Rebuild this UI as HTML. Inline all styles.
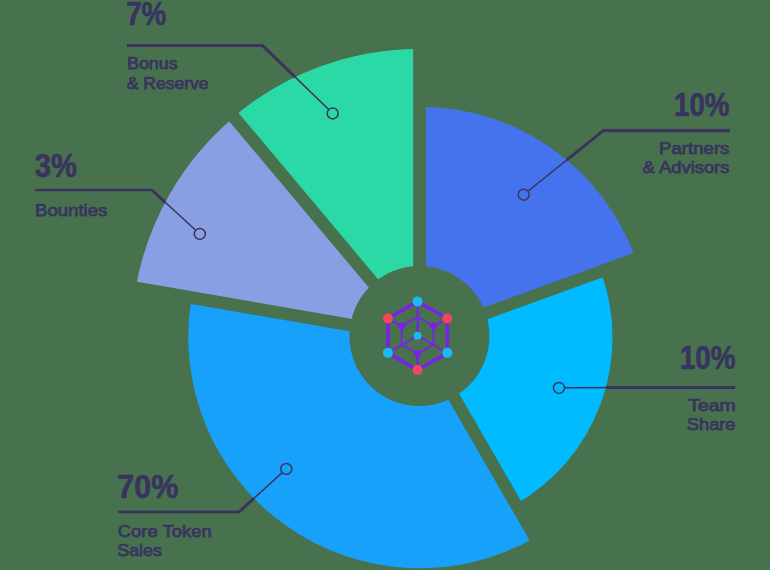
<!DOCTYPE html>
<html><head><meta charset="utf-8"><title>Token Distribution</title>
<style>
html,body{margin:0;padding:0;background:#48724d;}
body{width:770px;height:570px;overflow:hidden;font-family:"Liberation Sans",sans-serif;}
svg{display:block}
.big{font-family:"Liberation Sans",sans-serif;font-weight:700;font-size:33px;fill:#38345f;stroke:#38345f;stroke-width:0.7px}
.sm{font-family:"Liberation Sans",sans-serif;font-weight:400;font-size:16.2px;fill:#38345f;stroke:#38345f;stroke-width:0.75px}
</style></head><body>
<svg width="770" height="570" viewBox="0 0 770 570">
<rect width="770" height="570" fill="#48724d"/>
<g id="leaders-under">
<line x1="127.0" y1="45.4" x2="262.3" y2="45.4" stroke="#38345f" stroke-width="3.0"/>
<line x1="262.3" y1="45.4" x2="332.7" y2="113.4" stroke="#38345f" stroke-width="3.0" stroke-linecap="round"/>
<line x1="35.2" y1="190.0" x2="151.8" y2="190.0" stroke="#38345f" stroke-width="2.3"/>
<line x1="151.8" y1="190.0" x2="199.8" y2="233.9" stroke="#38345f" stroke-width="3.0" stroke-linecap="round"/>
<line x1="730.0" y1="130.6" x2="603.3" y2="130.6" stroke="#38345f" stroke-width="3.2"/>
<line x1="603.3" y1="130.6" x2="523.7" y2="194.7" stroke="#38345f" stroke-width="3.0" stroke-linecap="round"/>
<line x1="735.1" y1="387.5" x2="640" y2="387.5" stroke="#38345f" stroke-width="3.2"/>
<line x1="640" y1="387.5" x2="559" y2="387.5" stroke="#38345f" stroke-width="3.2"/>
<line x1="118.2" y1="511.9" x2="239.1" y2="511.9" stroke="#38345f" stroke-width="2.6"/>
<line x1="239.1" y1="511.9" x2="286.3" y2="468.9" stroke="#38345f" stroke-width="3.0" stroke-linecap="round"/>
</g>
<g id="slices">
<path d="M419.8 336.0L419.80 106.70A229.3 229.3 0 0 1 635.27 257.57Z" fill="#4573ee"/>
<path d="M419.8 336.0L600.91 271.66A192.2 192.2 0 0 1 514.94 504.68Z" fill="#00bbff"/>
<path d="M419.8 336.0L533.80 538.29A231.5 231.5 0 0 1 191.82 296.60Z" fill="#18a1fb"/>
<path d="M419.8 336.0L135.86 287.36A287 287 0 0 1 234.02 117.35Z" fill="#8a9fe3"/>
<path d="M419.8 336.0L234.42 116.15A287 287 0 0 1 418.90 49.00Z" fill="#2bd9a6"/>
<line x1="419.55" y1="346.00" x2="419.55" y2="47.50" stroke="#48724d" stroke-width="12.9"/>
<line x1="410.80" y1="340.62" x2="637.27" y2="258.20" stroke="#48724d" stroke-width="12.4"/>
<line x1="414.00" y1="327.84" x2="535.50" y2="538.28" stroke="#48724d" stroke-width="12.3"/>
<line x1="429.45" y1="338.70" x2="134.82" y2="287.81" stroke="#48724d" stroke-width="12.76"/>
<line x1="424.93" y1="344.76" x2="232.73" y2="115.73" stroke="#48724d" stroke-width="12.5"/>
<circle cx="419.40000000000003" cy="336.0" r="70" fill="#48724d"/>
</g>
<g id="logo">
<polygon points="417.60,301.40 447.30,318.55 447.30,352.85 417.60,370.00 387.90,352.85 387.90,318.55" fill="none" stroke="#7a22ea" stroke-width="3.6" stroke-linejoin="round"/>
<polygon points="417.60,316.90 433.53,326.10 433.53,344.50 417.60,353.70 401.67,344.50 401.67,326.10" fill="none" stroke="#7a22ea" stroke-width="1.9" stroke-linejoin="round"/>
<line x1="417.60" y1="301.40" x2="417.60" y2="335.70" stroke="#7a22ea" stroke-width="2.3"/>
<line x1="447.30" y1="318.55" x2="433.53" y2="326.10" stroke="#7a22ea" stroke-width="1.9"/>
<line x1="447.30" y1="352.85" x2="417.60" y2="335.70" stroke="#7a22ea" stroke-width="1.9"/>
<line x1="417.60" y1="370.00" x2="417.60" y2="353.70" stroke="#7a22ea" stroke-width="2.3"/>
<line x1="387.90" y1="352.85" x2="417.60" y2="335.70" stroke="#7a22ea" stroke-width="1.9"/>
<line x1="387.90" y1="318.55" x2="401.67" y2="326.10" stroke="#7a22ea" stroke-width="1.9"/>
<circle cx="433.53" cy="326.10" r="3.6" fill="#7a22ea"/>
<circle cx="417.60" cy="353.70" r="3.6" fill="#7a22ea"/>
<circle cx="401.67" cy="326.10" r="3.6" fill="#7a22ea"/>
<circle cx="417.6" cy="335.7" r="3.9" fill="#1cb9f4"/>
<circle cx="417.60" cy="301.40" r="5" fill="#1cb9f4"/>
<circle cx="447.30" cy="318.55" r="5" fill="#f5475c"/>
<circle cx="447.30" cy="352.85" r="5" fill="#1cb9f4"/>
<circle cx="417.60" cy="370.00" r="5" fill="#f5475c"/>
<circle cx="387.90" cy="352.85" r="5" fill="#1cb9f4"/>
<circle cx="387.90" cy="318.55" r="5" fill="#f5475c"/>
</g>
<g id="labels">
<text x="126.17" y="25.00" class="big" textLength="40.13" lengthAdjust="spacingAndGlyphs">7%</text>
<text x="126.98" y="69.00" class="sm" textLength="50.75" lengthAdjust="spacingAndGlyphs">Bonus</text>
<text x="126.89" y="89.00" class="sm" textLength="81.53" lengthAdjust="spacingAndGlyphs">&amp; Reserve</text>
<text x="34.75" y="177.00" class="big" textLength="42.00" lengthAdjust="spacingAndGlyphs">3%</text>
<text x="34.97" y="216.00" class="sm" textLength="72.43" lengthAdjust="spacingAndGlyphs">Bounties</text>
<text x="673.92" y="116.00" class="big" textLength="55.68" lengthAdjust="spacingAndGlyphs">10%</text>
<text x="658.97" y="154.00" class="sm" textLength="70.49" lengthAdjust="spacingAndGlyphs">Partners</text>
<text x="642.64" y="173.00" class="sm" textLength="86.82" lengthAdjust="spacingAndGlyphs">&amp; Advisors</text>
<text x="679.63" y="369.00" class="big" textLength="55.88" lengthAdjust="spacingAndGlyphs">10%</text>
<text x="688.24" y="411.00" class="sm" textLength="47.59" lengthAdjust="spacingAndGlyphs">Team</text>
<text x="686.83" y="430.00" class="sm" textLength="48.69" lengthAdjust="spacingAndGlyphs">Share</text>
<text x="117.23" y="498.00" class="big" textLength="61.06" lengthAdjust="spacingAndGlyphs">70%</text>
<text x="117.79" y="537.00" class="sm" textLength="93.95" lengthAdjust="spacingAndGlyphs">Core Token</text>
<text x="117.20" y="556.00" class="sm" textLength="44.84" lengthAdjust="spacingAndGlyphs">Sales</text>
<line x1="262.3" y1="45.4" x2="328.74" y2="109.58" stroke="#38345f" stroke-width="1.5"/>
<circle cx="332.7" cy="113.4" r="5.5" fill="none" stroke="#38345f" stroke-width="1.5"/>
<line x1="151.8" y1="190.0" x2="195.74" y2="230.19" stroke="#38345f" stroke-width="1.5"/>
<circle cx="199.8" cy="233.9" r="5.5" fill="none" stroke="#38345f" stroke-width="1.5"/>
<line x1="603.3" y1="130.6" x2="527.98" y2="191.25" stroke="#38345f" stroke-width="1.5"/>
<circle cx="523.7" cy="194.7" r="5.5" fill="none" stroke="#38345f" stroke-width="1.5"/>
<line x1="640" y1="387.5" x2="564.50" y2="387.87" stroke="#38345f" stroke-width="1.5"/>
<circle cx="559" cy="387.9" r="5.5" fill="none" stroke="#38345f" stroke-width="1.5"/>
<line x1="239.1" y1="511.9" x2="282.23" y2="472.60" stroke="#38345f" stroke-width="1.5"/>
<circle cx="286.3" cy="468.9" r="5.5" fill="none" stroke="#38345f" stroke-width="1.5"/>
</g>
</svg>
</body></html>
